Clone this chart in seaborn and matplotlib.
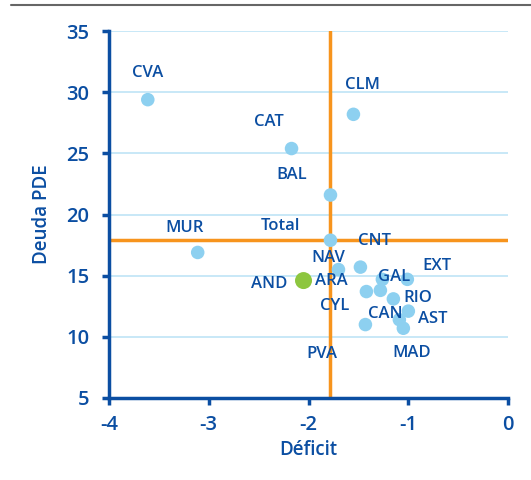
import matplotlib
matplotlib.use("Agg")
import matplotlib.pyplot as plt
from matplotlib.lines import Line2D
import pandas as pd
import seaborn as sns

# regiones y valores (deficit, deuda PDE)
regiones = ["CVA", "CLM", "CAT", "BAL", "MUR", "Total", "NAV", "CNT", "AND",
            "GAL", "EXT", "ARA", "CYL", "RIO", "AST", "CAN", "PVA", "MAD"]
deficit = [-3.61, -1.55, -2.17, -1.78, -3.11, -1.78, -1.70, -1.48, -2.05,
           -1.26, -1.01, -1.42, -1.28, -1.15, -1.00, -1.09, -1.43, -1.05]
deuda = [29.4, 28.2, 25.4, 21.6, 16.9, 17.9, 15.5, 15.7, 14.6,
         14.7, 14.7, 13.7, 13.8, 13.1, 12.1, 11.4, 11.0, 10.7]
grupo = ["resto"] * 8 + ["AND"] + ["resto"] * 9
media_deficit = -1.78
media_deuda = 17.9

# desplazamiento de etiquetas en pixeles
offsets = {"CVA": (0, 27), "CLM": (9, 29), "CAT": (-23, 27), "BAL": (-39, 20),
           "MUR": (-13, 24), "Total": (-50, 14), "NAV": (-10, 12), "CNT": (14, 26),
           "AND": (-34, -3), "GAL": (12, 2), "EXT": (30, 13), "ARA": (-35, 11),
           "CYL": (-46, -16), "RIO": (24, 1), "AST": (24, -8), "CAN": (-14, 6),
           "PVA": (-44, -29), "MAD": (8, -25)}

azul = "#0b4ea2"
celeste = "#8dd0f0"
verde = "#8dc63f"
naranja = "#f7941d"
peso = 600

sns.set_style("white")
plt.rcParams["font.family"] = ["Open Sans", "DejaVu Sans"]
plt.rcParams["axes.unicode_minus"] = False

df = pd.DataFrame({"region": regiones, "deficit": deficit, "deuda": deuda, "grupo": grupo})

fig = plt.figure(figsize=(5.31, 4.8), dpi=100)
ax = fig.add_axes([0.205, 0.171, 0.752, 0.764])

for y in [10, 15, 20, 25, 30, 35]:
    ax.axhline(y, color="#bfe4f6", lw=1.2, zorder=0)
ax.axvline(media_deficit, color=naranja, lw=2.5, zorder=1)
ax.axhline(media_deuda, color=naranja, lw=2.5, zorder=1)

sns.scatterplot(data=df[df.grupo == "resto"], x="deficit", y="deuda", color=celeste,
                s=95, edgecolor="none", ax=ax, zorder=3)
sns.scatterplot(data=df[df.grupo == "AND"], x="deficit", y="deuda", color=verde,
                s=150, edgecolor="none", ax=ax, zorder=3)

for _, r in df.iterrows():
    dx, dy = offsets[r.region]
    ax.annotate(r.region, (r.deficit, r.deuda), xytext=(dx, dy), textcoords="offset pixels",
                ha="center", va="center", color=azul, fontsize=12, fontweight=peso)

ax.set_xlim(-4, 0)
ax.set_ylim(5, 35)
ax.set_xticks([-4, -3, -2, -1, 0])
ax.set_yticks([5, 10, 15, 20, 25, 30, 35])
ax.set_xlabel("Déficit", color=azul, fontsize=13.5, fontweight=peso, labelpad=4)
ax.set_ylabel("Deuda PDE", color=azul, fontsize=13.5, fontweight=peso, labelpad=10)
ax.tick_params(colors=azul, labelsize=14.5, length=5, width=2.5, direction="out",
               left=True, bottom=True)
ax.tick_params(axis="x", pad=7)
ax.tick_params(axis="y", pad=9)
for t in ax.get_xticklabels() + ax.get_yticklabels():
    t.set_fontweight(peso)
for lado in ["top", "right"]:
    ax.spines[lado].set_visible(False)
for lado in ["left", "bottom"]:
    ax.spines[lado].set_color(azul)
    ax.spines[lado].set_linewidth(2.5)

fig.add_artist(Line2D([0.02, 1.0], [0.99, 0.99], color="#666666", lw=1.5))

fig.savefig("out.png", dpi=100)
